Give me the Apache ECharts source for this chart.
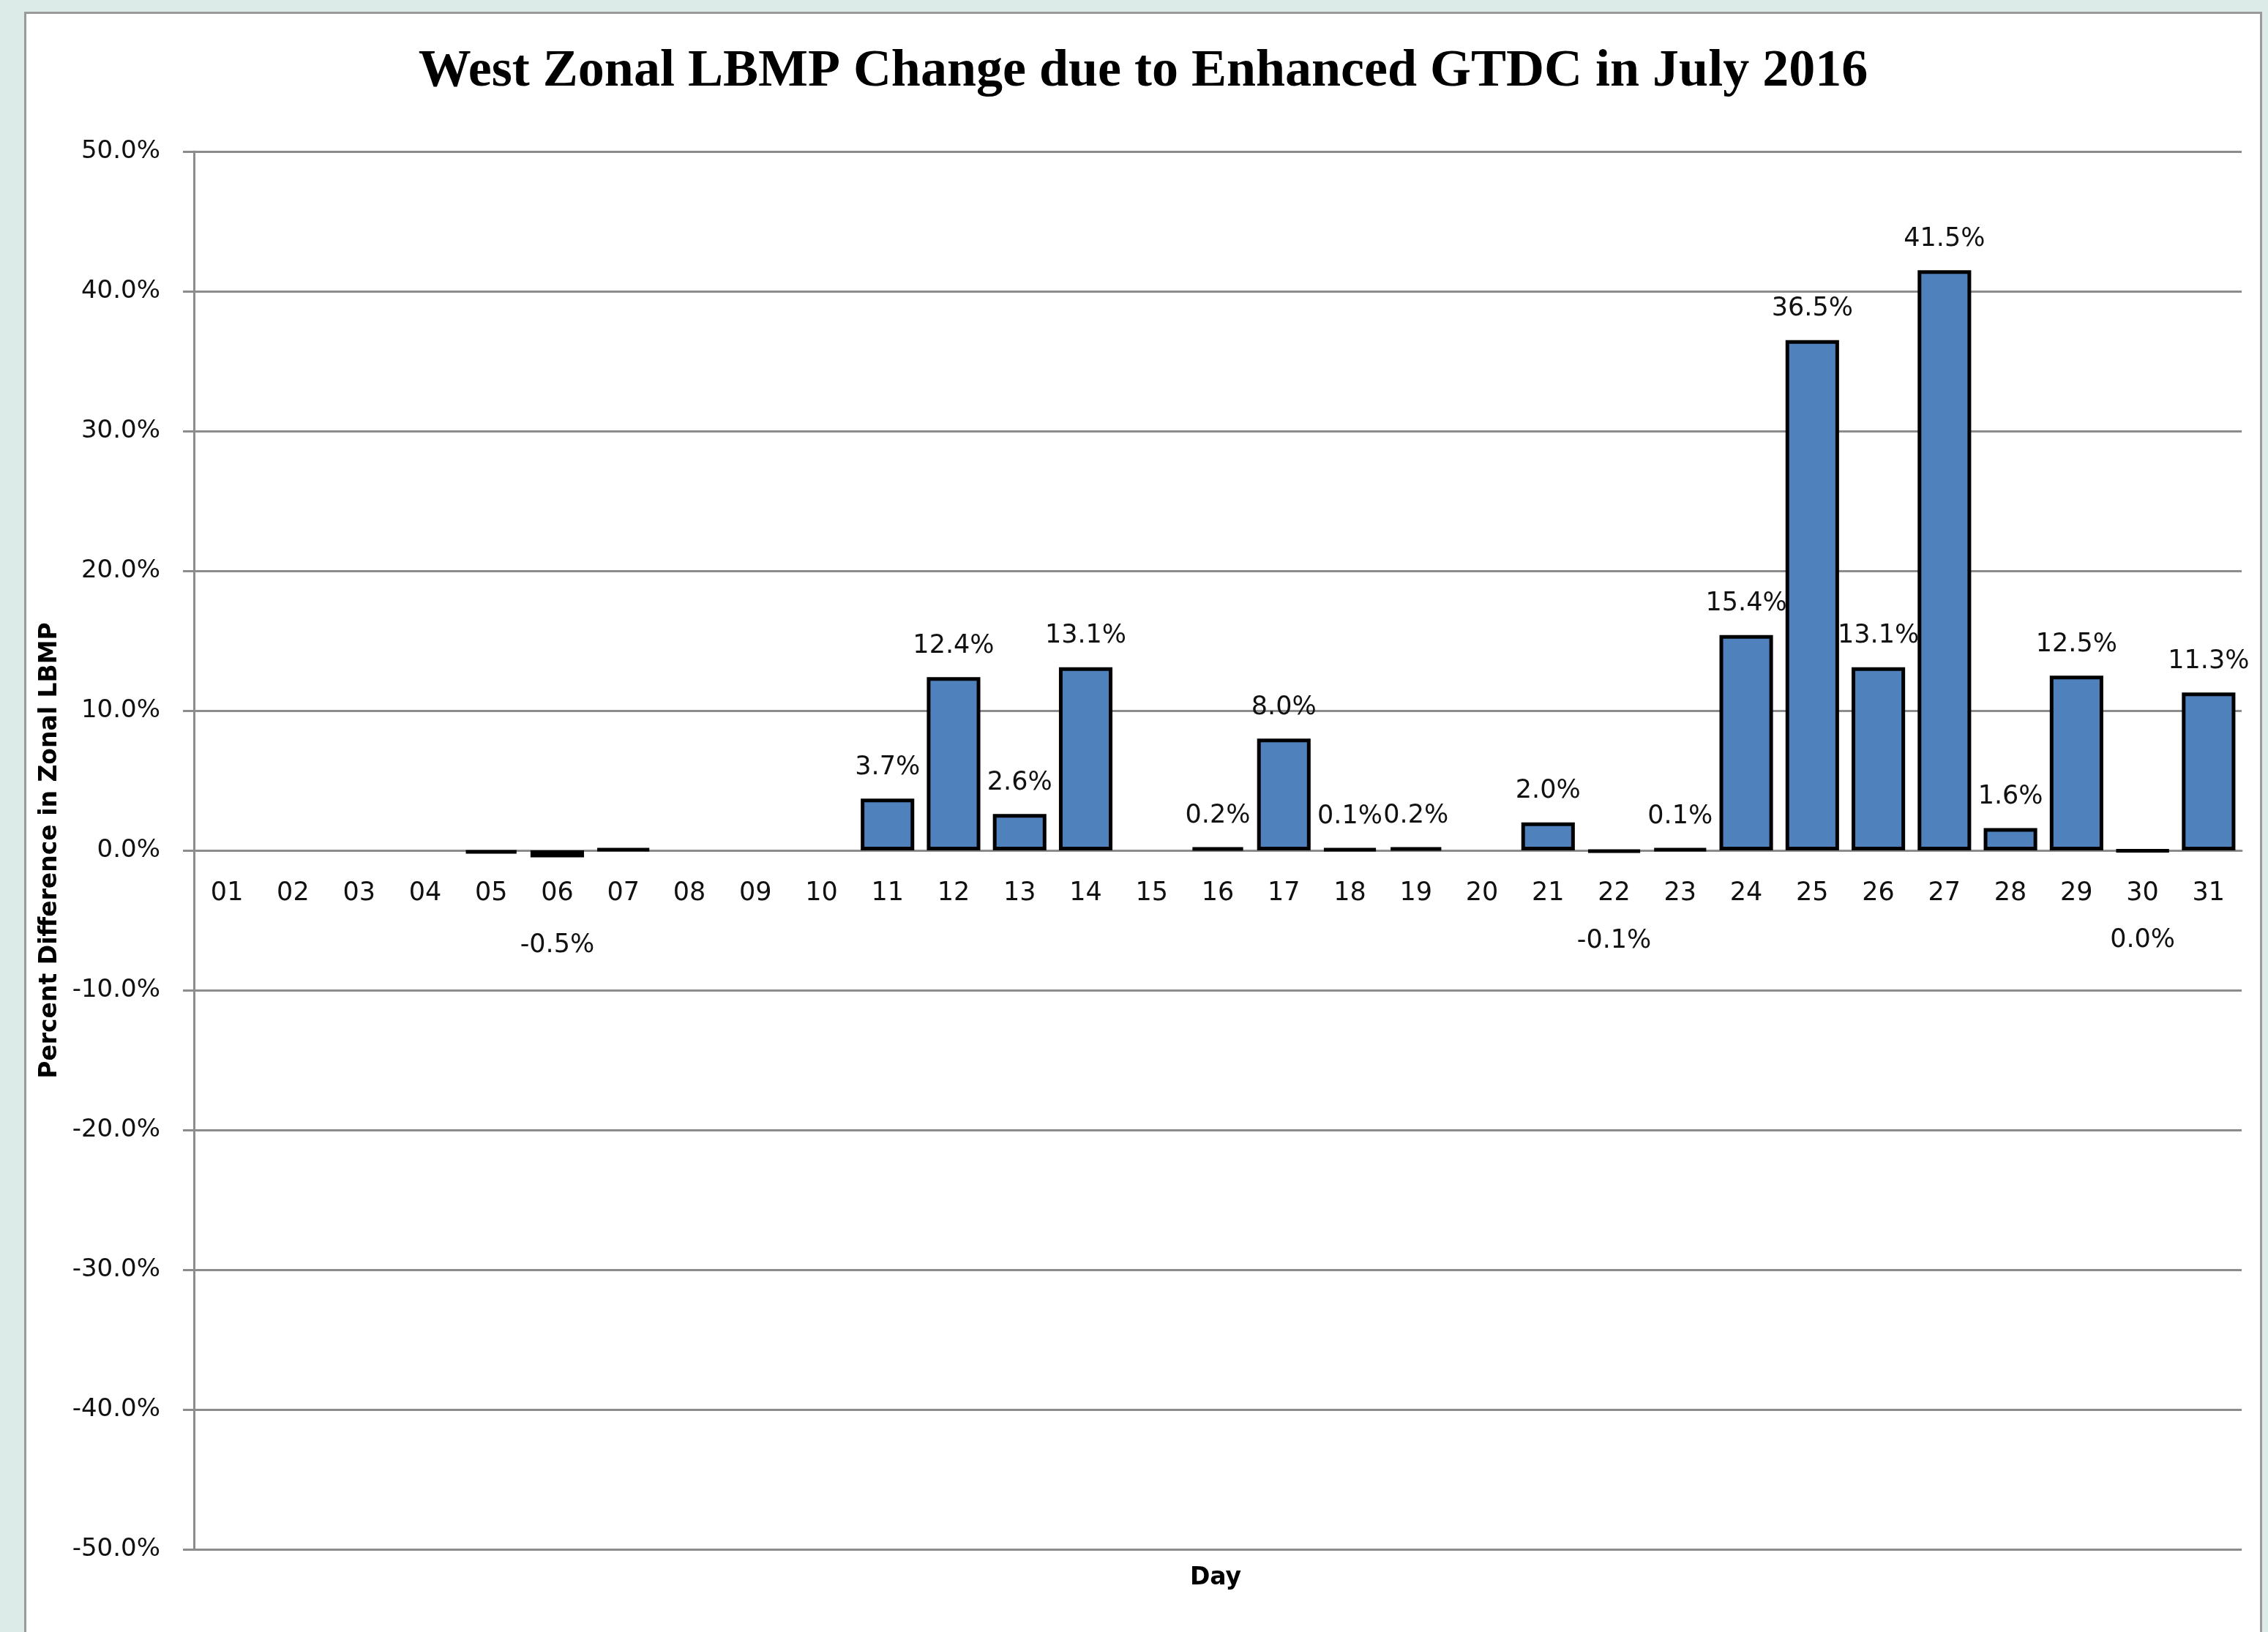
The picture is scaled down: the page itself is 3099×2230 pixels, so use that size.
<!DOCTYPE html>
<html>
<head>
<meta charset="utf-8">
<script src="https://cdn.jsdelivr.net/npm/echarts@6/dist/echarts.min.js"></script>
<style>
  html, body { margin: 0; padding: 0; }
  body { width: 3099px; height: 2230px; background: #dcebe7; overflow: hidden; position: relative; }
  #chart {
    position: absolute; left: 33px; top: 16px;
    width: 3052px; height: 2214px;
    background: #fff;
    border: 3px solid #9a9a9a; border-bottom: none;
  }
</style>
</head>
<body>
<div id="chart"></div>
<script>
// categories: day of the month
const days = ['01','02','03','04','05','06','07','08','09','10','11','12','13','14','15','16',
  '17','18','19','20','21','22','23','24','25','26','27','28','29','30','31'];
// percent change, blank days are null
const pctChange = [null, null, null, null, -0.2, -0.5, 0.1, null, null, null, 3.7, 12.4, 2.6, 13.1, null,
  0.2, 8.0, 0.1, 0.2, null, 2.0, -0.1, 0.1, 15.4, 36.5, 13.1, 41.5, 1.6, 12.5, -0.04, 11.3];
// days whose data label is not shown
const noLabelDays = ['05', '07'];
const yTicks = { min: -50, max: 50, step: 10 };

const fmt = v => (Math.round(v * 10) / 10).toFixed(1) + '%';

const barData = pctChange.map((v, i) => {
  if (v === null) return null;
  const item = { value: v };
  if (noLabelDays.includes(days[i])) {
    item.label = { show: false };
  } else if (v < 0) {
    item.label = { position: 'bottom', distance: 103 };
  }
  return item;
});

// plot box inside the chart div
const gridTop = 188, gridBottom = 116, chartH = 2214;
// move the category axis up to the 0 line
const zeroOffset = -((chartH - gridBottom - gridTop) / 2);

const chart = echarts.init(document.getElementById('chart'));
chart.setOption({
  animation: false,
  textStyle: { fontFamily: 'DejaVu Sans' },
  title: [
    {
      text: 'West Zonal LBMP Change due to Enhanced GTDC in July 2016',
      left: 'center',
      top: 38,
      textStyle: { fontFamily: 'Liberation Serif', fontWeight: 'bold', fontSize: 72, color: '#000' }
    },
    {
      text: 'Day',
      left: 1620,
      textAlign: 'center',
      top: 2116,
      textStyle: { fontFamily: 'DejaVu Sans', fontWeight: 'bold', fontSize: 33, color: '#000' }
    }
  ],
  grid: { left: 229, right: 25, top: gridTop, bottom: gridBottom, containLabel: false },
  xAxis: {
    type: 'category',
    data: days,
    position: 'bottom',
    offset: zeroOffset,
    axisLine: { onZero: false, lineStyle: { color: '#8c8c8c', width: 3 } },
    axisTick: { show: false },
    axisLabel: { margin: 41, fontSize: 35, color: '#111' },
    splitLine: { show: false }
  },
  yAxis: {
    type: 'value',
    min: yTicks.min,
    max: yTicks.max,
    interval: yTicks.step,
    name: 'Percent Difference in Zonal LBMP',
    nameLocation: 'middle',
    nameGap: 180,
    nameTextStyle: { fontWeight: 'bold', fontSize: 33, color: '#000' },
    axisLine: { show: true, lineStyle: { color: '#8c8c8c', width: 3 } },
    axisTick: { show: true, length: 15, lineStyle: { color: '#8c8c8c', width: 3 } },
    axisLabel: { margin: 46, fontSize: 34, color: '#111', formatter: v => v.toFixed(1) + '%' },
    splitLine: { lineStyle: { color: '#8c8c8c', width: 3 } }
  },
  series: [{
    type: 'bar',
    data: barData,
    barCategoryGap: '19%',
    itemStyle: { color: '#4f81bd', borderColor: '#000', borderWidth: 5 },
    label: {
      show: true,
      position: 'top',
      distance: 25,
      fontSize: 35,
      color: '#111',
      formatter: p => fmt(p.value)
    }
  }]
});
</script>
</body>
</html>
